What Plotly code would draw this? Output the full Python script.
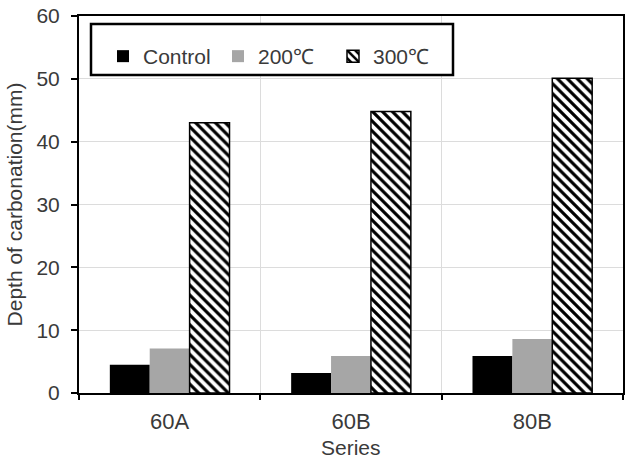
import plotly.graph_objects as go

categories = ["60A", "60B", "80B"]
control = [4.5, 3.2, 5.9]
t200 = [7.1, 5.9, 8.6]
t300 = [43.0, 44.8, 50.1]

y_ticks = [0, 10, 20, 30, 40, 50, 60]
x_title = "Series"
y_title = "Depth of carbonation(mm)"

font_family = "Liberation Sans, Arial, sans-serif"
txt = "#3a3a3a"

fig = go.Figure()
fig.add_trace(go.Bar(name="Control", x=categories, y=control,
                     marker=dict(color="#000000", line=dict(width=0))))
fig.add_trace(go.Bar(name="200℃", x=categories, y=t200,
                     marker=dict(color="#a6a6a6", line=dict(width=0))))
fig.add_trace(go.Bar(name="300℃", x=categories, y=t300,
                     marker=dict(color="white",
                                 line=dict(color="black", width=1.5),
                                 pattern=dict(shape="\\", fgcolor="black", bgcolor="white",
                                              size=7, solidity=0.45, fillmode="replace"))))

# legend frame
fig.add_shape(type="rect", xref="paper", yref="paper",
              x0=(91 - 79) / 544, x1=(453 - 79) / 544,
              y0=1 - (75 - 16) / 377, y1=1 - (24 - 16) / 377,
              line=dict(color="black", width=2.5), fillcolor="white", layer="above")

# x axis title near the bottom edge
fig.add_annotation(text=x_title, xref="paper", yref="paper",
                   x=0.5, y=1 - (447 - 16) / 377, xanchor="center", yanchor="middle",
                   showarrow=False, font=dict(size=21, color=txt))

fig.update_layout(
    width=626, height=460,
    margin=dict(l=79, r=3, t=16, b=67, autoexpand=False),
    paper_bgcolor="white", plot_bgcolor="white",
    barmode="group", bargap=0.34, bargroupgap=0,
    font=dict(family=font_family, size=21, color=txt),
    showlegend=True,
    legend=dict(orientation="h", x=(103 - 79) / 544, y=1 - (36 - 16) / 377,
                xanchor="left", yanchor="top",
                borderwidth=0, bgcolor="rgba(0,0,0,0)",
                font=dict(size=21, color=txt), entrywidth=70,
                itemwidth=30),
)
fig.update_xaxes(
    automargin=False,
    showline=True, linecolor="black", linewidth=2, mirror=True,
    showgrid=True, gridcolor="#dcdcdc", gridwidth=1,
    tickson="boundaries", ticks="outside", ticklen=5, tickcolor="black", tickwidth=1.5,
    ticklabelstandoff=8,
    tickfont=dict(size=22, color=txt),
)
fig.update_yaxes(
    automargin=False,
    range=[0, 60], tickvals=y_ticks,
    showline=True, linecolor="black", linewidth=2, mirror=True,
    showgrid=True, gridcolor="#dcdcdc", gridwidth=1, zeroline=False,
    ticks="outside", ticklen=6, tickcolor="black", tickwidth=1.5,
    ticklabelstandoff=7,
    title=dict(text=y_title, font=dict(size=21, color=txt), standoff=8),
    tickfont=dict(size=21, color=txt),
)

fig.write_html("out.html")
